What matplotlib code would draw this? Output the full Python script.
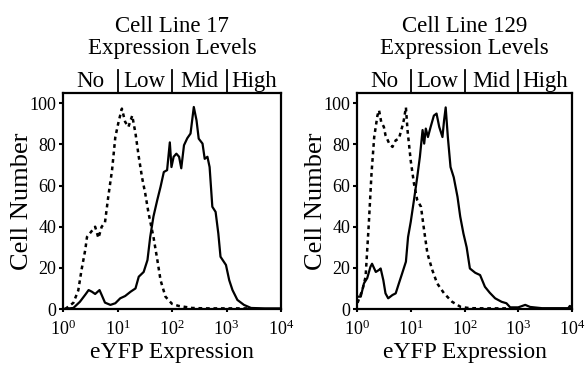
import numpy as np
import matplotlib
matplotlib.use("Agg")
import matplotlib.pyplot as plt
import matplotlib.transforms as mtransforms

plt.rcParams['font.family'] = ['Liberation Serif', 'DejaVu Serif']
plt.rcParams['mathtext.fontset'] = 'custom'
plt.rcParams['mathtext.rm'] = 'Liberation Serif'
plt.rcParams['mathtext.it'] = 'Liberation Serif:italic'

# x values are log10(eYFP expression)
l17_dash_x = [0.04, 0.19, 0.28, 0.34, 0.41, 0.44, 0.53, 0.59, 0.65, 0.71, 0.77, 0.83, 0.90, 0.96,
              1.02, 1.08, 1.14, 1.20, 1.27, 1.33, 1.39, 1.45, 1.51, 1.57, 1.66, 1.73, 1.79, 1.88,
              2.00, 2.12, 2.37, 2.6, 3.0, 3.4]
l17_dash_y = [0, 3, 9, 19, 29, 35, 38, 40, 34.5, 40, 42, 54.5, 67.5, 83.6,
              91, 97.4, 91, 88.5, 94, 85.4, 74, 64, 56, 46.5, 35, 24, 14, 6,
              2.5, 1.5, 0.5, 0.3, 0.3, 0.3]
l17_solid_x = [0.0, 0.19, 0.31, 0.41, 0.47, 0.53, 0.59, 0.67, 0.71, 0.77, 0.87, 0.96, 1.05, 1.14,
               1.24, 1.33, 1.39, 1.48, 1.55, 1.60, 1.66, 1.73, 1.79, 1.85, 1.91, 1.96, 1.99,
               2.03, 2.08, 2.13, 2.17, 2.22, 2.28, 2.34, 2.40, 2.45, 2.49, 2.56, 2.60, 2.65,
               2.69, 2.74, 2.80, 2.85, 2.89, 2.99, 3.05, 3.11, 3.20, 3.32, 3.45, 3.7, 4.0]
l17_solid_y = [0, 0.5, 3.5, 7, 9.2, 8.4, 7.3, 9.2, 6.8, 3.1, 2, 2.8, 5.2, 6.3,
               8.4, 10, 15.7, 18, 23.8, 35, 45, 53, 59.4, 66.6, 67.5, 81, 69,
               74, 75.5, 74, 68.4, 79.6, 83, 85.3, 98.2, 91.7, 82.8, 80.4, 73, 74,
               69, 49.7, 47.2, 36.7, 25.4, 21.4, 14, 9.2, 4.4, 2, 0.5, 0.3, 0.3]

l129_dash_x = [0.01, 0.10, 0.16, 0.22, 0.27, 0.32, 0.38, 0.41, 0.45, 0.50, 0.53, 0.60, 0.66, 0.72,
               0.78, 0.84, 0.87, 0.91, 0.94, 1.00, 1.06, 1.12, 1.19, 1.25, 1.31, 1.40, 1.49,
               1.62, 1.77, 1.93, 2.1, 2.4, 2.8]
l129_dash_y = [3, 9.2, 15.7, 41.6, 65.9, 83.6, 94, 96.6, 91, 88.5, 84.5, 80.4, 78.8, 82,
               82.8, 88.5, 91.7, 98, 86.9, 72, 61, 53, 49.7, 38, 27, 19, 12.5,
               7.6, 3.5, 1, 0.4, 0.3, 0.3]
l129_solid_x = [0.0, 0.07, 0.13, 0.19, 0.25, 0.28, 0.35, 0.41, 0.44, 0.49, 0.53, 0.58, 0.66, 0.72,
                0.78, 0.84, 0.91, 0.95, 1.00, 1.06, 1.12, 1.17, 1.22, 1.25, 1.28, 1.32, 1.37,
                1.43, 1.48, 1.53, 1.59, 1.62, 1.65, 1.69, 1.74, 1.80, 1.87, 1.92, 1.98, 2.04,
                2.10, 2.20, 2.29, 2.38, 2.47, 2.57, 2.69, 2.78, 2.85, 3.00, 3.13, 3.22, 3.44,
                3.93, 3.96, 4.0]
l129_solid_y = [6, 6, 12.5, 15, 20.5, 22, 18, 19, 19.7, 14, 7.6, 5.2, 6.8, 7.6,
                12.5, 17.3, 23, 35, 42.4, 53, 64, 74, 87, 80.4, 87.7, 83.6, 88.5,
                94, 95, 88.5, 83.6, 91.7, 98, 83.6, 69, 64, 54.5, 45, 36.7, 30,
                19.7, 17.6, 16.5, 10.8, 7.9, 5.2, 3.5, 2.8, 0.8, 0.8, 2, 1, 0.4,
                0.4, 1.5, 0.5]

titles = ["Cell Line 17", "Cell Line 129"]
levels = ["No", "Low", "Mid", "High"]
level_edges = [10, 100, 1000]

W, H = 588, 365
fig = plt.figure(figsize=(W / 100, H / 100), dpi=100)

panels = [
    (63, 281, l17_dash_x, l17_dash_y, l17_solid_x, l17_solid_y),
    (357, 572, l129_dash_x, l129_dash_y, l129_solid_x, l129_solid_y),
]
top_px, bot_px = 93, 309

for i, (x0, x1, dx, dy, sx, sy) in enumerate(panels):
    ax = fig.add_axes([x0 / W, 1 - bot_px / H, (x1 - x0) / W, (bot_px - top_px) / H])
    ax.plot(10 ** np.array(sx), sy, color='black', lw=1.6, solid_joinstyle='round')
    ax.plot(10 ** np.array(dx), dy, color='black', lw=1.8, dashes=(1.5, 1.5))
    ax.set_xscale('log')
    ax.set_xlim(1, 1e4)
    ax.set_ylim(0, 105)
    ax.set_yticks([0, 20, 40, 60, 80, 100])
    ax.set_xticks([1, 10, 100, 1000, 10000])
    ax.xaxis.set_minor_locator(matplotlib.ticker.NullLocator())
    for s in ax.spines.values():
        s.set_linewidth(1.6)
    ax.tick_params(axis='y', direction='out', length=3, width=1.5, labelsize=13, pad=2)
    ax.tick_params(axis='x', direction='out', length=2.5, width=1.5, labelsize=13, pad=5)
    ax.set_ylabel("Cell Number", fontsize=19, labelpad=-3)
    ax.set_xlabel("eYFP Expression", fontsize=17, labelpad=2)

    # expression level dividers and labels above the axes
    trans = mtransforms.blended_transform_factory(ax.transData, ax.transAxes)
    for e in level_edges:
        ax.plot([e, e], [1.0, 1.106], color='black', lw=1.3, transform=trans, clip_on=False)
    for k, lab in enumerate(levels):
        ax.text(10 ** (k + 0.5), (bot_px - 87) / (bot_px - top_px),
                lab, transform=trans, ha='center', va='baseline', fontsize=16.5)

    cx = (x0 + x1) / 2 / W
    fig.text(cx, 1 - 32 / H, titles[i], ha='center', va='baseline', fontsize=16.5)
    fig.text(cx, 1 - 54 / H, "Expression Levels", ha='center', va='baseline', fontsize=16.5)

fig.savefig("out.png", dpi=100)
